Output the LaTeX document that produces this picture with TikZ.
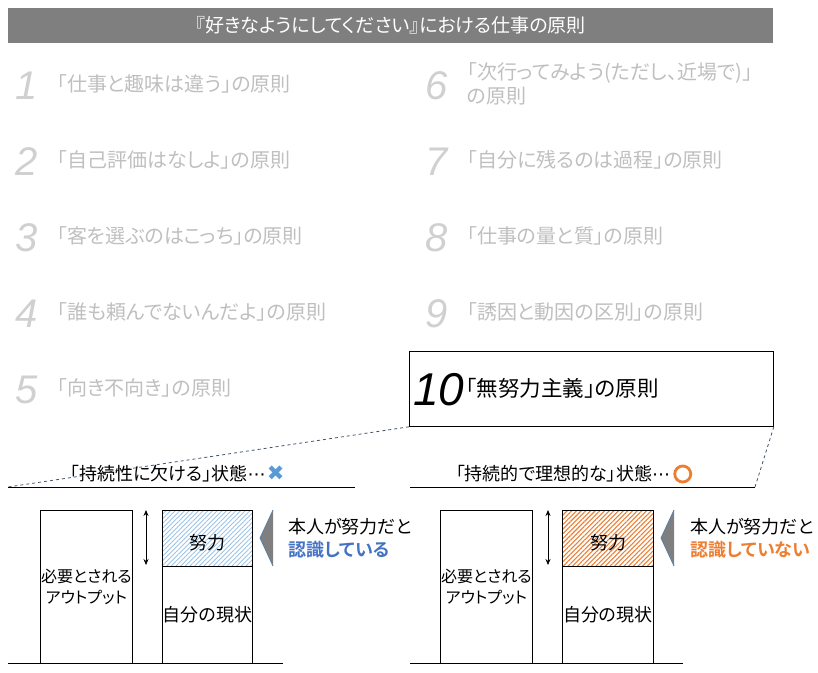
\documentclass[tikz,border=0pt]{standalone}
\usepackage{fontspec}
\setmainfont{Noto Sans CJK JP}[RawFeature=+palt, BoldFont={Noto Sans CJK JP Bold}]
\newfontfamily\numfont{Liberation Sans}
\newfontfamily\symfont{DejaVu Sans}
\usetikzlibrary{arrows.meta,patterns.meta}
\definecolor{titlegray}{HTML}{7F7F7F}
\definecolor{numgray}{HTML}{D0D0D0}
\definecolor{txtgray}{HTML}{BFBFBF}
\definecolor{dashcol}{HTML}{44546A}
\definecolor{accblue}{HTML}{4472C4}
\definecolor{xblue}{HTML}{5B9BD5}
\definecolor{hatchblue}{HTML}{9DC3E6}
\definecolor{accorange}{HTML}{ED7D31}
\definecolor{trigray}{HTML}{7F7F7F}
\definecolor{triedge}{HTML}{5B7FA8}
\newcommand\mdots{{\symfont ⋯}}
\begin{document}
\begin{tikzpicture}[x=1pt,y=-1pt,
  num/.style={font=\numfont\itshape\fontsize{40}{40}\selectfont, text=numgray, anchor=west, inner sep=0},
  item/.style={font=\fontsize{20}{24}\selectfont, text=txtgray, anchor=west, inner sep=0, align=left},
  head/.style={font=\fontsize{18}{20}\selectfont, inner sep=0},
  box/.style={draw=black, line width=0.8pt, inner sep=0},
  lbl/.style={font=\fontsize{18}{23}\selectfont, inner sep=0, align=left, anchor=west},
  intext/.style={inner sep=0, align=center},
  dashline/.style={draw=dashcol, dashed, line width=0.8pt},
  base/.style={draw=black, line width=0.9pt},
  tri/.style={fill=trigray},
  triedge/.style={draw=triedge, line width=0.8pt},
  dbl/.style={{Stealth[length=6pt,width=5pt]}-{Stealth[length=6pt,width=5pt]}, line width=0.7pt}
]
\useasboundingbox (0,0) rectangle (818,672);

% title
\node[fill=titlegray, minimum width=765, minimum height=35, inner sep=0, anchor=north west,
      text=white, font=\fontsize{19}{20}\selectfont] (title) at (8,8) {『好きなようにしてください』における仕事の原則};

% left column
\node[num] (n1) at (15,86) {1};
\node[item] (t1) at (57,84) {「仕事と趣味は違う」の原則};
\node[num] (n2) at (15,162) {2};
\node[item] (t2) at (57,160) {「自己評価はなしよ」の原則};
\node[num] (n3) at (15,238) {3};
\node[item] (t3) at (57,236) {「客を選ぶのはこっち」の原則};
\node[num] (n4) at (15,314) {4};
\node[item] (t4) at (57,312) {「誰も頼んでないんだよ」の原則};
\node[num] (n5) at (15,390) {5};
\node[item] (t5) at (57,388) {「向き不向き」の原則};

% right column
\node[num] (n6) at (425,86) {6};
\node[item] (t6) at (467,84) {「次行ってみよう(ただし、近場で)」\\の原則};
\node[num] (n7) at (425,162) {7};
\node[item] (t7) at (467,160) {「自分に残るのは過程」の原則};
\node[num] (n8) at (425,238) {8};
\node[item] (t8) at (467,236) {「仕事の量と質」の原則};
\node[num] (n9) at (425,314) {9};
\node[item] (t9) at (467,312) {「誘因と動因の区別」の原則};

% box 10
\node[box, minimum width=364, minimum height=75, anchor=north west] (b10) at (409,351) {};
\node[num, text=black, font=\numfont\itshape\fontsize{46}{46}\selectfont] (n10) at (413,390) {10};
\node[item, text=black, font=\fontsize{21.5}{22}\selectfont] (t10) at (466,388) {「無努力主義」の原則};

% underlines and dashed connectors
\coordinate (ulLs) at (8,487);
\coordinate (ulLe) at (355,487);
\coordinate (ulRs) at (410,487);
\coordinate (ulRe) at (755,487);
\draw[dashline] (b10.south west) -- (ulLs);
\draw[dashline] (b10.south east) -- (ulRe);
\draw[base] (ulLs) -- (ulLe);
\draw[base] (ulRs) -- (ulRe);

% headings
\node[head] (hL) at (168,474) {「持続性に欠ける」状態\mdots};
\node[font=\symfont\fontsize{21}{22}\selectfont, text=xblue, inner sep=0, anchor=west] (xL) at ([xshift=1pt,yshift=1pt]hL.east) {✖};
\node[head] (hR) at (563,474) {「持続的で理想的な」状態\mdots};
\node[draw=accorange, line width=2.8pt, circle, minimum size=16, inner sep=0, anchor=west] (oR) at ([xshift=3pt]hR.east) {};

% ---- left panel
\node[box, minimum width=92, minimum height=153, anchor=north west] (outL) at (40,510) {};
\node[intext, font=\fontsize{16}{21}\selectfont] (outLt) at (outL.center) {必要とされる\\アウトプット};
\node[box, minimum width=90, minimum height=56, anchor=north west,
      pattern={Lines[angle=45,distance=3.3pt,line width=0.9pt]}, pattern color=hatchblue] (effL) at (162,510) {};
\node[intext, font=\fontsize{18}{20}\selectfont] (effLt) at ([yshift=-4pt]effL.center) {努力};
\node[box, minimum width=90, minimum height=97, anchor=north west] (curL) at (162,566) {};
\node[intext, font=\fontsize{18}{20}\selectfont] (curLt) at (curL.center) {自分の現状};
\coordinate (arLt) at (146,510);
\coordinate (arLb) at (146,565);
\draw[dbl] (arLt) -- (arLb);
\coordinate (trLt) at (273,510);
\coordinate (trLb) at (273,566);
\coordinate (trLp) at (260,538);
\fill[tri] (trLt) -- (trLb) -- (trLp) -- cycle;
\draw[triedge] (trLt) -- (trLp) -- (trLb);
\node[lbl] (sayL) at (288,538) {本人が努力だと\\{\bfseries\color{accblue}認識している}};
\coordinate (bsLs) at (8,663);
\coordinate (bsLe) at (283,663);
\draw[base] (bsLs) -- (bsLe);

% ---- right panel
\node[box, minimum width=92, minimum height=153, anchor=north west] (outR) at (440,510) {};
\node[intext, font=\fontsize{16}{21}\selectfont] (outRt) at (outR.center) {必要とされる\\アウトプット};
\node[box, minimum width=91, minimum height=56, anchor=north west,
      pattern={Lines[angle=45,distance=3.3pt,line width=1.1pt]}, pattern color=accorange] (effR) at (562,510) {};
\node[intext, font=\fontsize{18}{20}\selectfont] (effRt) at ([yshift=-4pt]effR.center) {努力};
\node[box, minimum width=91, minimum height=97, anchor=north west] (curR) at (562,566) {};
\node[intext, font=\fontsize{18}{20}\selectfont] (curRt) at (curR.center) {自分の現状};
\coordinate (arRt) at (548,510);
\coordinate (arRb) at (548,565);
\draw[dbl] (arRt) -- (arRb);
\coordinate (trRt) at (674,510);
\coordinate (trRb) at (674,566);
\coordinate (trRp) at (661,538);
\fill[tri] (trRt) -- (trRb) -- (trRp) -- cycle;
\draw[triedge] (trRt) -- (trRp) -- (trRb);
\node[lbl] (sayR) at (690,538) {本人が努力だと\\{\bfseries\color{accorange}認識していない}};
\coordinate (bsRs) at (410,663);
\coordinate (bsRe) at (683,663);
\draw[base] (bsRs) -- (bsRe);
\end{tikzpicture}
\end{document}
